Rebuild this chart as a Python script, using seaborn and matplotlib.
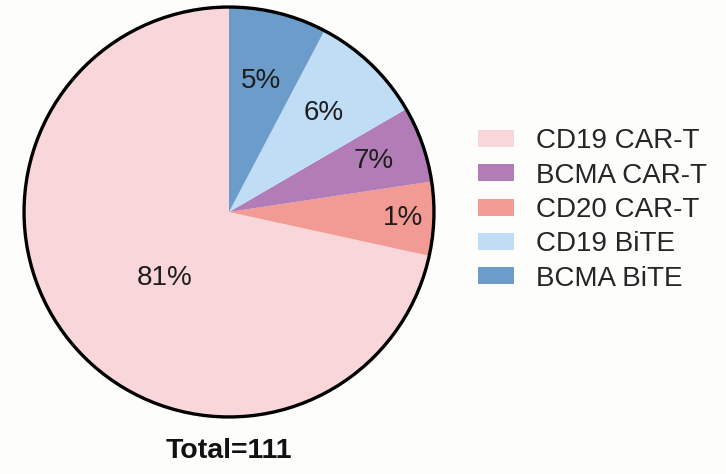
import matplotlib
matplotlib.use("Agg")
import matplotlib.pyplot as plt
import matplotlib.patches as mpatches
import numpy as np
import seaborn as sns

sns.set_theme(style="white")
plt.rcParams['font.family'] = ['Liberation Sans', 'DejaVu Sans']

# Data (slice order, counterclockwise from top)
categories = ["CD19 CAR-T", "CD20 CAR-T", "BCMA CAR-T", "CD19 BiTE", "BCMA BiTE"]
slice_sizes = [71.5, 5.8, 6.0, 8.9, 7.7]          # visual share of the circle
pct_labels = ["81%", "1%", "7%", "6%", "5%"]        # printed labels
legend_order = ["CD19 CAR-T", "BCMA CAR-T", "CD20 CAR-T", "CD19 BiTE", "BCMA BiTE"]
total_label = "Total=111"

colors = {
    "CD19 CAR-T": "#F9D6DA",
    "CD20 CAR-T": "#F29A94",
    "BCMA CAR-T": "#B27DB6",
    "CD19 BiTE": "#C0DDF6",
    "BCMA BiTE": "#6C9CCA",
}
label_radius = [0.45, 0.85, 0.75, 0.67, 0.66]
label_angle_shift = [7, 0, 0, 0, 0]

W, H = 726, 474
fig = plt.figure(figsize=(W / 100, H / 100), dpi=100)
fig.patch.set_facecolor("#FDFDFB")

cx, cy, r = 229, 212, 207
ax = fig.add_axes([(cx - r) / W, (H - cy - r) / H, 2 * r / W, 2 * r / H])
ax.set_facecolor("none")

wedges, _ = ax.pie(slice_sizes, colors=[colors[c] for c in categories],
                   startangle=90, counterclock=True, radius=1,
                   wedgeprops=dict(linewidth=0))
for w, lab, rr, sh in zip(wedges, pct_labels, label_radius, label_angle_shift):
    ang = np.deg2rad((w.theta1 + w.theta2) / 2 + sh)
    ax.text(rr * np.cos(ang), rr * np.sin(ang), lab, ha="center", va="center",
            fontsize=20, color="#1e1e1e")

ax.add_patch(mpatches.Circle((0, 0), 1, fill=False, edgecolor="black", linewidth=2.4))
ax.set_xlim(-1.01, 1.01)
ax.set_ylim(-1.01, 1.01)
ax.set_aspect("equal")
ax.axis("off")

fig.text(cx / W, 1 - 451 / H, total_label, ha="center", va="center",
         fontsize=20.5, fontweight="bold", color="#111111")

handles = [mpatches.Patch(facecolor=colors[c], edgecolor="none", label=c) for c in legend_order]
fig.legend(handles=handles, loc="center left", bbox_to_anchor=(478 / W, 1 - 210 / H),
           frameon=False, fontsize=20, handlelength=1.3, handleheight=0.55,
           handletextpad=0.8, labelspacing=0.3, borderaxespad=0, borderpad=0)

fig.savefig("out.png", dpi=100, facecolor=fig.get_facecolor())
